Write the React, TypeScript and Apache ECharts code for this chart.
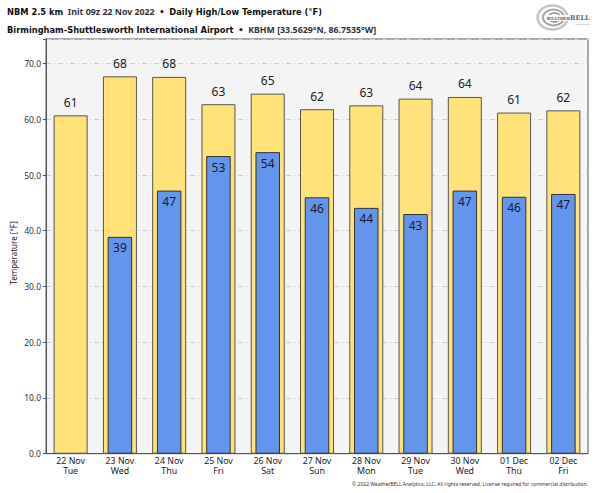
import React, { useEffect, useRef } from "react";
import * as echarts from "echarts";

const days = ["22 Nov\nTue", "23 Nov\nWed", "24 Nov\nThu", "25 Nov\nFri", "26 Nov\nSat", "27 Nov\nSun", "28 Nov\nMon", "29 Nov\nTue", "30 Nov\nWed", "01 Dec\nThu", "02 Dec\nFri"];
const highs = [60.7, 67.7, 67.6, 62.7, 64.6, 61.8, 62.5, 63.7, 64.0, 61.2, 61.6];
const lows: (number | null)[] = [null, 38.9, 47.2, 53.4, 54.1, 46.0, 44.1, 43.0, 47.2, 46.1, 46.6];
const yTicks = [0, 10, 20, 30, 40, 50, 60, 70];

const FONT = "'Noto Sans', 'DejaVu Sans', sans-serif";

export default function App() {
  const ref = useRef<HTMLDivElement>(null);
  useEffect(() => {
    if (!ref.current) return;
    const chart = echarts.init(ref.current, null, { renderer: "svg" });
    const common = {
      type: "category" as const,
      data: days,
    };
    chart.setOption({
      animation: false,
      backgroundColor: "#ffffff",
      textStyle: { fontFamily: FONT },
      grid: { left: 46, right: 12, top: 39, bottom: 39.3, show: true, backgroundColor: "#f4f4f4", borderColor: "#555555", borderWidth: 1 },
      title: {
        left: 7,
        top: 2.5,
        padding: 0,
        text: "{b|NBM 2.5 km} {n|Init 09z 22 Nov 2022} {b|•} {b|Daily High/Low Temperature (°F)}\n{b|Birmingham-Shuttlesworth International Airport} {b|•} {n|KBHM [33.5629°N, 86.7535°W]}",
        textStyle: {
          rich: {
            b: { fontFamily: "'DejaVu Sans', sans-serif", fontWeight: "bold", fontSize: 8.3, color: "#111", lineHeight: 15 },
            n: { fontFamily: FONT, fontSize: 8.8, color: "#333", lineHeight: 15 },
          },
        },
      },
      xAxis: [
        {
          ...common,
          axisLine: { lineStyle: { color: "#555", width: 1 } },
          axisTick: { alignWithLabel: true, length: 3, lineStyle: { color: "#555" } },
          axisLabel: { color: "#222", fontSize: 8.8, lineHeight: 10.5, margin: 2, fontFamily: FONT },
        },
        { ...common, show: false },
      ],
      yAxis: {
        type: "value",
        min: 0,
        max: 74.4,
        interval: 10,
        axisLine: { show: true, lineStyle: { color: "#555" } },
        axisTick: { show: true, length: 3, lineStyle: { color: "#555" } },
        axisLabel: {
          color: "#333",
          fontSize: 8.5,
          margin: 5,
          formatter: (v: number) => (yTicks.includes(v) ? v.toFixed(1) : ""),
        },
        splitLine: { show: true, lineStyle: { color: "#cccccc", type: [5, 3, 1, 3], width: 1 } },
      },
      series: [
        {
          type: "bar",
          xAxisIndex: 0,
          data: highs,
          barWidth: 34,
          itemStyle: { color: "#ffe37a", borderColor: "#555555", borderWidth: 1 },
          label: {
            show: true,
            position: "top",
            distance: 7,
            color: "#222",
            fontSize: 12,
            fontFamily: FONT,
            formatter: (p: any) => String(Math.round(p.value)),
          },
        },
        {
          type: "bar",
          xAxisIndex: 1,
          data: lows,
          barWidth: 24.5,
          itemStyle: { color: "#6495ed", borderColor: "#333333", borderWidth: 1 },
          label: {
            show: true,
            position: "insideTop",
            distance: 5,
            color: "#1a1a2e",
            fontSize: 12,
            fontFamily: FONT,
            formatter: (p: any) => (p.value == null ? "" : String(Math.round(p.value))),
          },
        },
      ],
      graphic: [
        {
          type: "text",
          x: 13,
          y: 253,
          rotation: Math.PI / 2,
          style: {
            text: "Temperature [°F]",
            fontSize: 8,
            fontFamily: FONT,
            fill: "#222",
            align: "center",
            verticalAlign: "middle",
          },
        },
        {
          type: "text",
          right: 12,
          top: 481,
          style: {
            text: "© 2022 WeatherBELL Analytics, LLC. All rights reserved. License required for commercial distribution.",
            fontSize: 5,
            fontFamily: FONT,
            fill: "#333",
          },
        },
        {
          type: "group",
          left: 535,
          top: 3,
          children: [
            { type: "ellipse", shape: { cx: 16, cy: 14, rx: 15, ry: 12 }, style: { fill: "none", stroke: "#c4c4c4", lineWidth: 2.5 } },
            { type: "ellipse", shape: { cx: 17, cy: 14, rx: 10.5, ry: 8 }, style: { fill: "none", stroke: "#a8a8a8", lineWidth: 2 } },
            { type: "ellipse", shape: { cx: 18, cy: 14, rx: 6, ry: 4.5 }, style: { fill: "none", stroke: "#909090", lineWidth: 1.5 } },
            { type: "rect", shape: { x: 10, y: 11.5, width: 44, height: 6 }, style: { fill: "rgba(255,255,255,0.8)" } },
            {
              type: "text",
              x: 10,
              y: 14.5,
              style: {
                text: "{s|WEATHER}{l|BELL}",
                verticalAlign: "middle",
                rich: {
                  s: { fontSize: 4, fontWeight: "bold", fontFamily: "'DejaVu Serif', serif", fill: "#666" },
                  l: { fontSize: 6.5, fontWeight: "bold", fontFamily: "'DejaVu Serif', serif", fill: "#666" },
                },
              },
            },
            { type: "text", x: 38, y: 18.5, style: { text: "Analytics LLC", fontSize: 2.5, fontFamily: FONT, fill: "#999" } },
          ],
        },
      ],
    });
    return () => chart.dispose();
  }, []);
  return <div ref={ref} style={{ position: "fixed", left: 0, top: 0, width: 600, height: 493 }} />;
}
